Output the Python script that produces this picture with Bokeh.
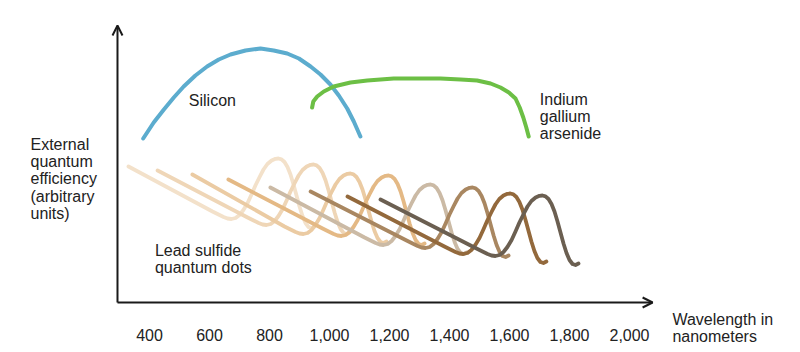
from bokeh.plotting import figure
from bokeh.models import Range1d, Arrow, OpenHead, Label
from bokeh.core.properties import value
from bokeh.embed import file_html
from bokeh.resources import INLINE

# ---- data (wavelength in nm, efficiency in arbitrary units) ----
si_wl = [379, 414, 448, 481, 514, 553, 592, 631, 670, 720, 770, 814, 859, 898, 937, 970, 1003, 1031, 1059, 1081, 1103]
si_eqe = [164, 180, 193, 205, 216, 227, 236, 243, 248, 252, 254, 252, 249, 244, 236, 228, 218, 207, 194, 181, 166]

ingaas_wl = [942, 946, 959, 981, 1014, 1070, 1126, 1214, 1292, 1370, 1437, 1492, 1537, 1570, 1598, 1620, 1634, 1646, 1656, 1664]
ingaas_eqe = [195, 201, 206, 211, 216, 220, 222, 224, 224, 224, 223, 222, 219, 215, 210, 204, 195, 185, 175, 166]

qd_wl = [
    [330, 610, 630, 647, 660, 673, 687, 700, 713, 727, 740, 753, 767, 780, 793, 807, 820, 830, 840, 850, 860, 870, 880, 890, 900, 910, 920, 930, 940, 950],
    [427, 727, 747, 764, 777, 790, 804, 817, 830, 844, 857, 870, 884, 897, 910, 924, 937, 947, 957, 967, 977, 987, 997, 1007, 1017, 1027, 1037, 1047, 1057, 1067],
    [543, 850, 870, 887, 900, 913, 927, 940, 953, 967, 980, 993, 1007, 1020, 1033, 1047, 1060, 1070, 1080, 1090, 1100, 1110, 1120, 1130, 1140, 1150, 1160, 1170, 1180, 1190],
    [663, 977, 997, 1014, 1027, 1040, 1054, 1067, 1080, 1094, 1107, 1120, 1134, 1147, 1160, 1174, 1187, 1197, 1207, 1217, 1227, 1237, 1247, 1257, 1267, 1277, 1287, 1297, 1307, 1317],
    [803, 1117, 1137, 1154, 1167, 1180, 1194, 1207, 1220, 1234, 1247, 1260, 1274, 1287, 1300, 1314, 1327, 1337, 1347, 1357, 1367, 1377, 1387, 1397, 1407, 1417, 1427, 1437, 1447, 1457],
    [937, 1257, 1277, 1294, 1307, 1320, 1334, 1347, 1360, 1374, 1387, 1400, 1414, 1427, 1440, 1454, 1467, 1477, 1487, 1497, 1507, 1517, 1527, 1537, 1547, 1557, 1567, 1577, 1587, 1597],
    [1060, 1383, 1403, 1420, 1433, 1446, 1460, 1473, 1486, 1500, 1513, 1526, 1540, 1553, 1566, 1580, 1593, 1603, 1613, 1623, 1633, 1643, 1653, 1663, 1673, 1683, 1693, 1703, 1713, 1723],
    [1170, 1490, 1510, 1527, 1540, 1553, 1567, 1580, 1593, 1607, 1620, 1633, 1647, 1660, 1673, 1687, 1700, 1710, 1720, 1730, 1740, 1750, 1760, 1770, 1780, 1790, 1800, 1810, 1820, 1830],
]
qd_eqe = [
    [136, 91, 88, 85.5, 84, 83.5, 84.5, 87.5, 92.5, 99.5, 108, 117, 125.5, 133, 138.5, 142, 143.7, 144, 143.2, 140.5, 135.5, 128, 118, 107, 96, 86.5, 79.5, 75.5, 74.5, 76],
    [132, 85, 82, 79.5, 78, 77.5, 78.5, 81.5, 86.5, 93.5, 102, 111, 119.5, 127, 132.5, 136, 137.7, 138, 137.2, 134.5, 129.5, 122, 112, 101, 90, 80.5, 73.5, 69.5, 68.5, 70],
    [128, 76, 73, 70.5, 69, 68.5, 69.5, 72.5, 77.5, 84.5, 93, 102, 110.5, 118, 123.5, 127, 128.7, 129, 128.2, 125.5, 120.5, 113, 103, 92, 81, 71.5, 64.5, 60.5, 59.5, 61],
    [123, 74, 71, 68.5, 67, 66.5, 67.5, 70.5, 75.5, 82.5, 91, 100, 108.5, 116, 121.5, 125, 126.7, 127, 126.2, 123.5, 118.5, 111, 101, 90, 79, 69.5, 62.5, 58.5, 57.5, 59],
    [115, 65, 62, 59.5, 58, 57.5, 58.5, 61.5, 66.5, 73.5, 82, 91, 99.5, 107, 112.5, 116, 117.7, 118, 117.2, 114.5, 109.5, 102, 92, 81, 70, 60.5, 53.5, 49.5, 48.5, 50],
    [111, 62, 59, 56.5, 55, 54.5, 55.5, 58.5, 63.5, 70.5, 79, 88, 96.5, 104, 109.5, 113, 114.7, 115, 114.2, 111.5, 106.5, 99, 89, 78, 67, 57.5, 50.5, 46.5, 45.5, 47],
    [106, 56, 53, 50.5, 49, 48.5, 49.5, 52.5, 57.5, 64.5, 73, 82, 90.5, 98, 103.5, 107, 108.7, 109, 108.2, 105.5, 100.5, 93, 83, 72, 61, 51.5, 44.5, 40.5, 39.5, 41],
    [103, 54, 51, 48.5, 47, 46.5, 47.5, 50.5, 55.5, 62.5, 71, 80, 88.5, 96, 101.5, 105, 106.7, 107, 106.2, 103.5, 98.5, 91, 81, 70, 59, 49.5, 42.5, 38.5, 37.5, 39],
]
qd_colors = ["#f3e1ca", "#efd6b7", "#ebcba3", "#e4b985", "#cbbaa5", "#a98761", "#93693c", "#6b5f51"]

tick_values = [400, 600, 800, 1000, 1200, 1400, 1600, 1800, 2000]
tick_labels = ["400", "600", "800", "1,000", "1,200", "1,400", "1,600", "1,800", "2,000"]

# ---- figure ----
FONT = "Liberation Sans"
TXT = "#222222"

p = figure(width=800, height=352, x_range=Range1d(-96.67, 2570), y_range=Range1d(-50, 302),
           output_backend="svg", toolbar_location=None, x_axis_type=None, y_axis_type=None,
           min_border=0)
p.grid.visible = False
p.outline_line_color = None
p.background_fill_color = "white"

# axes with arrow heads
x0 = 293.3
p.add_layout(Arrow(x_start=x0, y_start=0, x_end=2077, y_end=0, line_color="#1a1a1a", line_width=2,
                   end=OpenHead(size=10, line_color="#1a1a1a", line_width=2)))
p.add_layout(Arrow(x_start=x0, y_start=0, x_end=x0, y_end=277, line_color="#1a1a1a", line_width=2,
                   end=OpenHead(size=10, line_color="#1a1a1a", line_width=2)))

# curves
p.line(si_wl, si_eqe, line_color="#5cacce", line_width=4, line_cap="round", line_join="round")
p.line(ingaas_wl, ingaas_eqe, line_color="#6cbf45", line_width=4, line_cap="round", line_join="round")
for wl, eq, c in zip(qd_wl, qd_eqe, qd_colors):
    p.line(wl, eq, line_color=c, line_width=3.8, line_cap="round", line_join="round")

# tick labels
p.text(x=tick_values, y=[-32] * len(tick_values), text=tick_labels, text_font=value(FONT),
       text_font_size="16px", text_align="center", text_baseline="alphabetic", text_color=TXT)

def lab(x, y, t):
    p.add_layout(Label(x=x, y=y, text=t, text_font=FONT, text_font_size="16px",
                       text_baseline="alphabetic", text_align="left", text_color=TXT))

for i, t in enumerate(["External", "quantum", "efficiency", "(arbitrary", "units)"]):
    lab(3.3, 158 - 17.2 * i, t)
lab(531, 202, "Silicon")
for i, t in enumerate(["Indium", "gallium", "arsenide"]):
    lab(1701, 203 - 17 * i, t)
for i, t in enumerate(["Lead sulfide", "quantum dots"]):
    lab(418, 52 - 17 * i, t)
for i, t in enumerate(["Wavelength in", "nanometers"]):
    lab(2143, -17 - 17 * i, t)

open("out.html", "w").write(file_html(p, INLINE))
